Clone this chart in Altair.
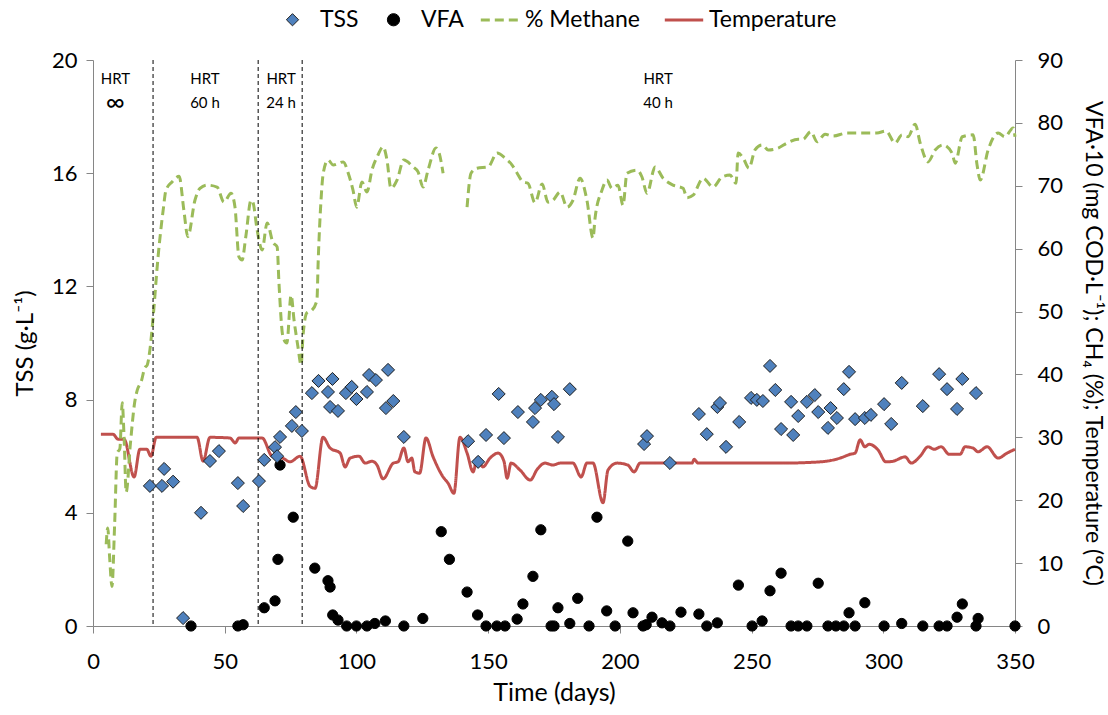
import altair as alt
import pandas as pd

FONT = "Lato"

# ---------------- data ----------------
point_series = ["TSS", "VFA"]
point_fills = ["#4F81BD", "#000000"]
point_strokes = ["#1F1F1F", "#000000"]
point_shapes = ["diamond", "circle"]
line_series = ["% Methane", "Temperature"]
line_colors = ["#9BBB59", "#C0504D"]
line_dashes = [[9, 5], [1, 0]]

tss_day = [21.6, 26.2, 27, 30.4, 34.2, 41, 44.4, 47.8, 55, 57, 63, 65, 69.1, 69.9, 71,
           75.5, 77, 79.3, 83.1, 85.6, 89.2, 90, 90.9, 93, 96, 98.2, 100, 104, 104.8, 107.4,
           111.2, 112, 114, 118, 142.4, 146.2, 149.2, 154, 156, 161.3, 167, 167.8, 170, 174.2, 175,
           176.5, 181, 209.2, 210.3, 219, 230, 233, 237, 238, 240.3, 245.3, 249.8, 252, 254.3, 257,
           259, 261.2, 265, 265.8, 267.7, 271, 274, 275.3, 279, 280, 282.4, 285, 287, 289.3, 293,
           295.3, 300.3, 303, 307, 315, 321.2, 324.2, 328, 330, 335.2]
tss_val = [4.95, 4.95, 5.55, 5.1, 0.28, 4.0, 5.83, 6.18, 5.05, 4.24, 5.12, 5.87, 6.32, 6.0, 6.68,
           7.07, 7.56, 6.89, 8.23, 8.66, 8.27, 7.74, 8.73, 7.6, 8.23, 8.45, 8.02, 8.27, 8.87, 8.69,
           7.7, 9.05, 7.95, 6.68, 6.53, 5.8, 6.75, 8.2, 6.64, 7.56, 7.21, 7.7, 7.99, 8.1, 7.84,
           6.68, 8.37, 6.43, 6.71, 5.76, 7.49, 6.78, 7.74, 7.88, 6.33, 7.21, 8.06, 7.99, 7.95, 9.19,
           8.34, 6.96, 7.92, 6.75, 7.42, 7.92, 8.16, 7.56, 7.0, 7.7, 7.35, 8.37, 8.98, 7.31, 7.35,
           7.46, 7.84, 7.14, 8.59, 7.77, 8.9, 8.37, 7.67, 8.73, 8.23]

vfa_day = [37.2, 55, 57, 65, 69.1, 70.2, 71, 76, 84.2, 89.2, 90, 91, 93, 96.3, 100, 104, 107, 111,
           118, 125.2, 132.2, 135.3, 142, 146, 149.2, 153.3, 156.4, 161, 163.2, 167, 170, 173.9, 175,
           176.5, 181, 184, 188.3, 191.3, 195, 198.2, 203, 205, 208.8, 210, 212.2, 216, 219, 223.2,
           230, 233, 237, 245, 250.2, 254, 257, 261.2, 265, 267.7, 271, 275.3, 279, 282, 285, 287,
           289.3, 293, 300.3, 307, 315, 321.2, 324.2, 328, 330, 335.2, 336, 350]
vfa_val = [0, 0, 0.2, 2.9, 4.0, 10.6, 25.6, 17.3, 9.2, 7.2, 6.2, 1.75, 0.95, 0, 0, 0, 0.4, 0.8,
           0, 1.2, 15.0, 10.6, 5.4, 1.75, 0, 0, 0, 1.1, 3.5, 7.9, 15.3, 0, 0,
           2.9, 0.4, 4.4, 0, 17.3, 2.4, 0, 13.5, 2.1, 0, 0.2, 1.4, 0.5, 0, 2.2,
           1.9, 0, 0.5, 6.5, 0, 0.8, 5.6, 8.4, 0, 0, 0, 6.8, 0, 0, 0, 2.1,
           0, 3.7, 0, 0.4, 0, 0, 0, 1.4, 3.5, 0, 1.2, 0]

meth1_day = [5.0, 5.6, 6.3, 7.2, 8.2, 9.2, 10.2, 11.1, 11.8, 12.6, 14.2, 15.8, 16.8, 18.4, 19.6,
             20.6, 21.6, 22.8, 24.7, 26.6, 27.7, 30, 32.7, 34.5, 36, 38.7, 40.6, 43.3, 47.1, 49.7,
             52.4, 53.9, 55.4, 56.6, 58, 60, 60.7, 62.3, 64.2, 66.1, 68.3, 69.9, 70.6, 72.1, 73.6,
             75.2, 76.3, 77.8, 79, 79.7, 81.2, 83.1, 85, 85.5, 86.5, 87.4, 89.2, 91.2, 95, 96.9,
             98.7, 100.1, 102.1, 104, 105.9, 108.2, 110.1, 111.6, 113.1, 115.4, 118, 121.5, 123.4,
             125.3, 127.2, 130.2, 131.4, 132.9]
meth1_val = [13.0, 15.6, 11.0, 6.3, 16.0, 27.5, 28.2, 35.5, 30.0, 21.3, 29.0, 35.5, 37.5, 39.0, 41.0,
             41.5, 43.9, 49.0, 58.7, 66.0, 69.3, 70.6, 71.5, 66.1, 61.9, 67.7, 69.6, 70.1, 69.8, 67.4,
             68.8, 66.6, 58.7, 58.2, 61.9, 67.7, 67.4, 63.0, 59.8, 64.1, 61.0, 60.3, 54.5, 46.0, 45.0,
             52.6, 48.7, 44.4, 41.5, 46.0, 49.8, 50.2, 51.8, 58.2, 67.3, 72.0, 74.1, 73.3, 73.8, 72.0,
             69.3, 66.6, 70.6, 69.0, 72.5, 74.9, 76.2, 74.1, 69.6, 70.9, 74.1, 73.0, 72.2,
             69.8, 72.5, 76.0, 75.2, 72.0]
meth2_day = [142, 143.5, 145.8, 150, 153.4, 156.4, 159.1, 161, 163.3, 165.1, 167.8, 170.5, 172.7,
             174.6, 177.3, 180, 182.2, 184.9, 187.5, 189.8, 190.6, 193.2, 195.1, 197, 199.3, 201.2,
             202.7, 206.5, 208.4, 210.3, 213.4, 216.4, 220.2, 224, 225.5, 227.8, 231.6, 235.4, 238.8,
             241.8, 244.1, 244.9, 246.8, 249, 251.3, 254, 256.3, 260.1, 263.5, 267.7, 269.5, 272.5,
             274.9, 277.9, 280.9, 286.3, 297.6, 301, 304.5, 307.1, 309.4, 312.1, 314, 317, 319.7,
             322.7, 326.1, 327.3, 330, 334.1, 335.6, 336.8, 339.8, 343.6, 346.2, 349.3, 350]
meth2_val = [66.6, 72.0, 72.8, 73.0, 75.2, 74.4, 73.3, 72.0, 70.6, 70.4, 67.3, 70.3, 67.4,
             67.7, 69.0, 66.6, 67.7, 71.2, 67.7, 61.7, 64.9, 69.3, 70.9, 69.6, 70.1, 66.9,
             72.0, 72.5, 71.4, 68.8, 73.0, 71.2, 70.1, 69.6, 68.1, 68.5, 71.2, 69.8, 71.4,
             71.7, 70.4, 75.2, 74.4, 72.8, 75.7, 76.5, 75.7, 76.0, 76.8, 77.4, 77.4, 78.6,
             77.0, 78.2, 77.9, 78.4, 78.4, 78.7, 76.8, 78.1, 77.8, 79.8, 76.8, 73.8, 75.7,
             76.5, 75.2, 73.6, 77.8, 78.1, 73.3, 70.9, 75.7, 78.4, 77.8, 79.2, 77.8]

temp_day = [3, 7.6, 9.5, 11.8, 15.6, 17.8, 20.4, 22, 24, 39.5, 41.8, 44.4, 52, 54, 55.4, 64.2, 68,
            72, 74.8, 78.6, 82.4, 84.3, 87.3, 90, 93.8, 95.7, 97.6, 101, 103.3, 105.9, 107.8, 110.1,
            114, 115.8, 118, 119.6, 121, 122.2, 124, 126.4, 129.1, 132.9, 134.8, 137, 139.3, 142,
            144.3, 145.8, 148, 150.7, 153.8, 156, 157.2, 158.7, 162.1, 166, 168.6, 171.6, 174.6,
            177.3, 182.2, 185.3, 187.5, 189.8, 193.6, 195.5, 198.9, 203, 205.4, 207.7, 227.4, 228.2,
            229.7, 260.8, 276, 283.6, 287.4, 289.3, 291.2, 293, 294.6, 298, 301, 303.7, 308.3, 310.6,
            314, 317, 319.3, 322, 325, 329.2, 331, 334, 336, 339.4, 343.6, 347, 350]
temp_val = [30.5, 30.5, 29.7, 29.7, 23.7, 28.1, 28.1, 27.0, 30.0, 30.0, 26.2, 30.0, 29.9, 29.1, 29.9,
            29.9, 27.0, 26.7, 26.1, 27.0, 22.2, 21.9, 30.0, 28.3, 27.5, 25.3, 26.7, 27.0, 25.9, 26.2,
            25.6, 23.4, 25.9, 26.1, 28.3, 26.1, 26.7, 24.5, 24.3, 29.9, 26.9, 23.7, 22.7, 21.1, 30.0,
            27.5, 24.5, 26.7, 25.3, 26.7, 27.5, 26.2, 23.5, 25.9, 24.8, 23.2, 24.9, 25.9, 25.6,
            25.9, 25.9, 23.7, 25.9, 25.9, 19.6, 24.8, 25.9, 25.6, 24.5, 25.9, 25.9, 26.5, 25.9,
            25.9, 26.1, 26.7, 27.3, 27.5, 29.6, 28.5, 28.9, 28.0, 26.1, 26.2, 26.9, 25.9, 27.0,
            28.5, 28.1, 28.5, 27.3, 27.3, 28.5, 28.3, 27.7, 28.5, 26.7, 27.5, 28.1]

hrt_change_days = [22.8, 62.7, 79.4]
hrt_label_x = [8.5, 42.5, 71.4, 214.5]
hrt_line1 = ["HRT", "HRT", "HRT", "HRT"]
hrt_line2 = ["\u221e", "60 h", "24 h", "40 h"]
hrt_line1_y = 19.33
hrt_line2_y = 18.48

x_ticks = list(range(0, 351, 50))
left_ticks = [0, 4, 8, 12, 16, 20]
right_ticks = list(range(0, 91, 10))

# ---------------- frames ----------------
tss_df = pd.DataFrame({"day": tss_day, "value": tss_val, "series": "TSS"})
vfa_df = pd.DataFrame({"day": vfa_day, "value": vfa_val, "series": "VFA"})
meth_df = pd.concat([
    pd.DataFrame({"day": meth1_day, "value": meth1_val, "seg": "a"}),
    pd.DataFrame({"day": meth2_day, "value": meth2_val, "seg": "b"}),
])
meth_df["series"] = "% Methane"
temp_df = pd.DataFrame({"day": temp_day, "value": temp_val, "series": "Temperature", "seg": "c"})
rule_df = pd.DataFrame({"day": hrt_change_days})
lab_df = pd.DataFrame({"day": hrt_label_x, "l1": hrt_line1, "l2": hrt_line2})

AX = "#868686"
TICK_FS = 22

x_enc = alt.X("day:Q", scale=alt.Scale(domain=[0, 350], nice=False, zero=True),
              axis=alt.Axis(values=x_ticks, title="Time (days)", grid=False, domainColor=AX,
                            tickColor=AX, tickSize=7, labelFontSize=TICK_FS, titleFontSize=25,
                            labelPadding=18, titlePadding=8, labelColor="black",
                            titleColor="black", titleFontWeight="normal", labelFlush=False))

left_y_scale = alt.Scale(domain=[0, 20], nice=False)
right_y_scale = alt.Scale(domain=[0, 90], nice=False)

left_axis = alt.Axis(values=left_ticks, orient="left", title="TSS (g\u00b7L\u207b\u00b9)", grid=False,
                     domainColor=AX, tickColor=AX, tickSize=7, labelFontSize=TICK_FS, titleFontSize=24,
                     labelPadding=9, titlePadding=14, labelColor="black", titleColor="black",
                     titleFontWeight="normal")
right_axis = alt.Axis(values=right_ticks, orient="right",
                      title="VFA\u00b710 (mg COD\u00b7L\u207b\u00b9); CH\u2084 (%); Temperature (\u00baC)",
                      grid=False, domainColor=AX, tickColor=AX, tickSize=7, labelFontSize=TICK_FS,
                      titleFontSize=23, labelPadding=15, titlePadding=18, labelColor="black",
                      titleColor="black", titleFontWeight="normal")

pt_legend = alt.Legend(orient="none", legendX=188, legendY=-52, direction="horizontal", title=None,
                       symbolSize=150, labelFontSize=23, labelColor="black", labelOffset=16,
                       columnPadding=23, symbolOpacity=1, symbolStrokeWidth=1)
ln_legend = alt.Legend(orient="none", legendX=386, legendY=-61, direction="horizontal", title=None,
                       symbolSize=1475, symbolType="stroke", symbolStrokeWidth=3,
                       labelFontSize=23, labelColor="black", labelOffset=4, columnPadding=18)

pt_fill = alt.Fill("series:N", scale=alt.Scale(domain=point_series, range=point_fills), legend=pt_legend)
pt_stroke = alt.Stroke("series:N", scale=alt.Scale(domain=point_series, range=point_strokes), legend=pt_legend)
pt_shape = alt.Shape("series:N", scale=alt.Scale(domain=point_series, range=point_shapes), legend=pt_legend)

ln_color = alt.Color("series:N", scale=alt.Scale(domain=line_series, range=line_colors), legend=ln_legend)
ln_dash = alt.StrokeDash("series:N", scale=alt.Scale(domain=line_series, range=line_dashes), legend=ln_legend)

# right-axis layers
temp_line = alt.Chart(temp_df).mark_line(strokeWidth=3, interpolate="monotone").encode(
    x=x_enc, y=alt.Y("value:Q", scale=right_y_scale, axis=right_axis), color=ln_color,
    strokeDash=ln_dash, detail="seg:N")
meth_line = alt.Chart(meth_df).mark_line(strokeWidth=3, interpolate="monotone").encode(
    x=x_enc, y=alt.Y("value:Q", scale=right_y_scale, axis=right_axis), color=ln_color,
    strokeDash=ln_dash, detail="seg:N")
vfa_pts = alt.Chart(vfa_df).mark_point(filled=True, size=105, opacity=1, strokeWidth=1).encode(
    x=x_enc, y=alt.Y("value:Q", scale=right_y_scale, axis=right_axis),
    fill=pt_fill, stroke=pt_stroke, shape=pt_shape)

right = alt.layer(temp_line, meth_line, vfa_pts)

# left-axis layers
rules = alt.Chart(rule_df).mark_rule(color="#000000", strokeWidth=1, strokeDash=[4, 3]).encode(
    x=alt.X("day:Q", scale=alt.Scale(domain=[0, 350], nice=False)))
txt1 = alt.Chart(lab_df).mark_text(fontSize=15, color="black", baseline="middle").encode(
    x=alt.X("day:Q"), y=alt.Y("y1:Q", scale=left_y_scale, axis=left_axis), text="l1:N"
).transform_calculate(y1=str(hrt_line1_y))
txt2 = alt.Chart(lab_df).mark_text(color="black", baseline="middle").encode(
    x=alt.X("day:Q"), y=alt.Y("y2:Q", scale=left_y_scale, axis=left_axis), text="l2:N",
    size=alt.condition(alt.datum.l2 == "\u221e", alt.value(26), alt.value(15)),
).transform_calculate(y2=str(hrt_line2_y))
tss_pts = alt.Chart(tss_df).mark_point(filled=True, size=170, opacity=1, strokeWidth=1).encode(
    x=x_enc, y=alt.Y("value:Q", scale=left_y_scale, axis=left_axis),
    fill=pt_fill, stroke=pt_stroke, shape=pt_shape)

left = alt.layer(rules, txt1, txt2, tss_pts)

chart = alt.layer(right, left).resolve_scale(y="independent").properties(
    width=922, height=566,
    autosize=alt.AutoSizeParams(type="none"),
    padding={"left": 93, "top": 60, "right": 93, "bottom": 89},
).configure(font=FONT).configure_view(strokeWidth=0)

chart.save("out.html", embed_options={"renderer": "svg", "actions": False})
